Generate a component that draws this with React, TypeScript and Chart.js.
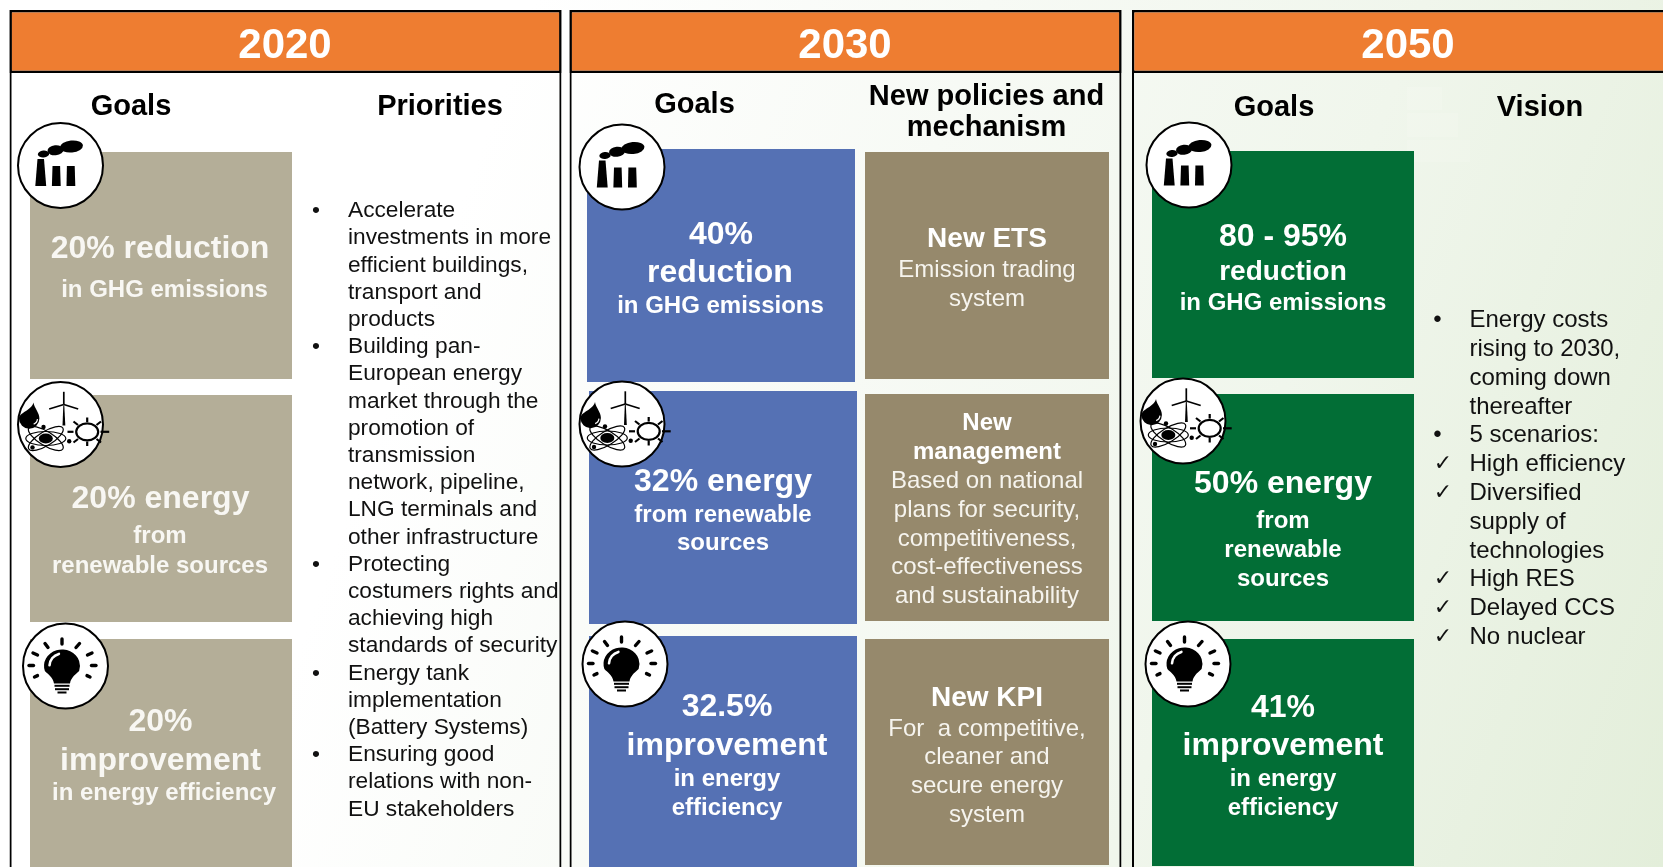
import React, { useEffect, useRef } from "react";
import { Chart, registerables } from "chart.js";

Chart.register(...registerables);

const WIDTH = 1663;
const HEIGHT = 867;
const FONT = '"Liberation Sans", Arial, sans-serif';

const ORANGE = "#ee7d31";
const TAN = "#b4ae98";
const BLUE = "#5571b4";
const KHAKI = "#96896c";
const GREEN = "#026e36";
const INK = "#111111";
const WHITE = "#ffffff";

// panels: left, right
const panelSpans = [
  [9.5, 561.5],
  [569.5, 1121.5],
  [1132, 1680],
];
const panelTop = 10;
const headerBottom = 73;

// filled boxes: left, right, top, bottom, colour
const boxes: [number, number, number, number, string][] = [
  [30, 292, 152, 379, TAN],
  [30, 292, 395, 622, TAN],
  [30, 292, 639, 867, TAN],
  [587, 855, 149, 382, BLUE],
  [589, 857, 391, 624, BLUE],
  [589, 857, 636, 867, BLUE],
  [865, 1109, 152, 379, KHAKI],
  [865, 1109, 394, 621, KHAKI],
  [865, 1109, 639, 865, KHAKI],
  [1152, 1414, 151, 378, GREEN],
  [1152, 1414, 394, 621, GREEN],
  [1152, 1414, 639, 866, GREEN],
];

// the faint energy-label shapes in the backdrop: left, right, top, bottom
const ghostBars: [number, number, number, number][] = [
  [1407, 1442, 87, 110],
  [1407, 1458, 113, 137],
  [1407, 1470, 140, 162],
];

// icon badges: centre x, centre y, icon name
const badges: [number, number, string][] = [
  [60.5, 165.5, "factory"],
  [60.5, 424.5, "energy"],
  [65.5, 666, "bulb"],
  [622, 167, "factory"],
  [622, 424, "energy"],
  [625, 664, "bulb"],
  [1189, 165, "factory"],
  [1183, 421, "energy"],
  [1188, 664, "bulb"],
];

const yearLabels = ["2020", "2030", "2050"];
const yearCentres = [285, 845, 1408];

// text runs: text, x, baseline, size, bold, colour
type Run = [string, number, number, number, boolean, string];

const columnHeads: Run[] = [
  ["Goals", 131, 115, 29, true, "#000"],
  ["Priorities", 440, 115, 29, true, "#000"],
  ["Goals", 694.5, 113, 29, true, "#000"],
  ["New policies and", 986.5, 105, 29, true, "#000"],
  ["mechanism", 986.5, 136, 29, true, "#000"],
  ["Goals", 1274, 116, 29, true, "#000"],
  ["Vision", 1540, 116, 29, true, "#000"],
];

const goals2020: Run[] = [
  ["20% reduction", 160, 258, 32, true, "#f8f7f3"],
  ["in GHG emissions", 164.5, 297, 24, true, "#f8f7f3"],
  ["20% energy", 160.5, 508, 32, true, "#f8f7f3"],
  ["from", 160, 543, 24, true, "#f8f7f3"],
  ["renewable sources", 160, 573, 24, true, "#f8f7f3"],
  ["20%", 160.5, 731, 32, true, "#f8f7f3"],
  ["improvement", 160.5, 770, 32, true, "#f8f7f3"],
  ["in energy efficiency", 164, 800, 24, true, "#f8f7f3"],
];

const goals2030: Run[] = [
  ["40%", 721, 244, 32, true, WHITE],
  ["reduction", 720, 282, 32, true, WHITE],
  ["in GHG emissions", 720.5, 313, 24, true, WHITE],
  ["32% energy", 723, 491, 32, true, WHITE],
  ["from renewable", 723, 522, 24, true, WHITE],
  ["sources", 723, 550, 24, true, WHITE],
  ["32.5%", 727, 716, 32, true, WHITE],
  ["improvement", 727, 755, 32, true, WHITE],
  ["in energy", 727, 786, 24, true, WHITE],
  ["efficiency", 727, 815, 24, true, WHITE],
];

const policies2030: Run[] = [
  ["New ETS", 987, 247, 28, true, WHITE],
  ["Emission trading", 987, 277, 24, false, "#f6f4ee"],
  ["system", 987, 306, 24, false, "#f6f4ee"],
  ["New", 987, 430, 24, true, WHITE],
  ["management", 987, 459, 24, true, WHITE],
  ["Based on national", 987, 488, 24, false, "#f6f4ee"],
  ["plans for security,", 987, 517, 24, false, "#f6f4ee"],
  ["competitiveness,", 987, 546, 24, false, "#f6f4ee"],
  ["cost-effectiveness", 987, 574, 24, false, "#f6f4ee"],
  ["and sustainability", 987, 603, 24, false, "#f6f4ee"],
  ["New KPI", 987, 706, 28, true, WHITE],
  ["For  a competitive,", 987, 736, 24, false, "#f6f4ee"],
  ["cleaner and", 987, 764, 24, false, "#f6f4ee"],
  ["secure energy", 987, 793, 24, false, "#f6f4ee"],
  ["system", 987, 822, 24, false, "#f6f4ee"],
];

const goals2050: Run[] = [
  ["80 - 95%", 1283, 246, 32, true, WHITE],
  ["reduction", 1283, 280, 28, true, WHITE],
  ["in GHG emissions", 1283, 310, 24, true, WHITE],
  ["50% energy", 1283, 493, 32, true, WHITE],
  ["from", 1283, 528, 24, true, WHITE],
  ["renewable", 1283, 557, 24, true, WHITE],
  ["sources", 1283, 586, 24, true, WHITE],
  ["41%", 1283, 717, 32, true, WHITE],
  ["improvement", 1283, 755, 32, true, WHITE],
  ["in energy", 1283, 786, 24, true, WHITE],
  ["efficiency", 1283, 815, 24, true, WHITE],
];

const priorityLines = [
  "Accelerate",
  "investments in more",
  "efficient buildings,",
  "transport and",
  "products",
  "Building pan-",
  "European energy",
  "market through the",
  "promotion of",
  "transmission",
  "network, pipeline,",
  "LNG terminals and",
  "other infrastructure",
  "Protecting",
  "costumers rights and",
  "achieving high",
  "standards of security",
  "Energy tank",
  "implementation",
  "(Battery Systems)",
  "Ensuring good",
  "relations with non-",
  "EU stakeholders",
];
const priorityBullets = [0, 5, 13, 17, 20];

const visionLines = [
  "Energy costs",
  "rising to 2030,",
  "coming down",
  "thereafter",
  "5 scenarios:",
  "High efficiency",
  "Diversified",
  "supply of",
  "technologies",
  "High RES",
  "Delayed CCS",
  "No nuclear",
];
const visionBullets = [0, 4];
const visionChecks = [5, 6, 9, 10, 11];

function drawFactory(c: CanvasRenderingContext2D) {
  c.fillStyle = "#000";
  const polys = [
    [[-25.2, 20.5], [-23, -6.5], [-16.5, -6.5], [-14.3, 20.5]],
    [[-8.6, 20.5], [-8, 0.5], [-0.4, 0.5], [0.2, 20.5]],
    [[6, 20.5], [6.4, 0.5], [14.2, 0.5], [14.8, 20.5]],
  ];
  polys.forEach((p) => {
    c.beginPath();
    p.forEach(([x, y], i) => (i ? c.lineTo(x, y) : c.moveTo(x, y)));
    c.closePath();
    c.fill();
  });
  const puffs = [
    [11, -19, 11.5, 6],
    [-5, -15.2, 8, 5],
    [-17, -11.5, 5.7, 3.5],
  ];
  puffs.forEach(([x, y, rx, ry]) => {
    c.beginPath();
    c.ellipse(x, y, rx, ry, -0.1, 0, Math.PI * 2);
    c.fill();
  });
}

function drawEnergy(c: CanvasRenderingContext2D) {
  c.fillStyle = "#000";
  c.strokeStyle = "#000";
  // drop
  c.beginPath();
  c.moveTo(-27, -22);
  c.bezierCurveTo(-29, -14, -41.5, -12, -41.5, -6);
  c.arc(-31.3, -6, 10.2, Math.PI, 0, true);
  c.bezierCurveTo(-21.1, -12, -26, -16, -27, -22);
  c.fill();
  c.strokeStyle = "#fff";
  c.lineWidth = 1.2;
  c.beginPath();
  c.arc(-29, -6, 6, 0.1, 1.2);
  c.stroke();
  c.strokeStyle = "#000";
  // turbine
  c.beginPath();
  c.moveTo(2, 1);
  c.lineTo(2.8, -19);
  c.lineTo(3.8, -19);
  c.lineTo(4.8, 1);
  c.closePath();
  c.fill();
  const blades = [
    [3.3, -32.7],
    [-11.3, -15.5],
    [17.7, -15.5],
  ];
  blades.forEach(([x, y]) => {
    c.beginPath();
    c.moveTo(3.3, -20);
    c.lineTo(x, y);
    c.lineWidth = 1.7;
    c.stroke();
  });
  // atom
  c.lineWidth = 1.2;
  [0, 0.55, -0.55].forEach((rot) => {
    c.beginPath();
    c.ellipse(-14.7, 14, 20, 7, rot, 0, Math.PI * 2);
    c.stroke();
  });
  c.beginPath();
  c.ellipse(-14.7, 14, 7, 5, 0, 0, Math.PI * 2);
  c.fill();
  [[-17, 2.5], [-28, 23], [8.7, 16.7]].forEach(([x, y]) => {
    c.beginPath();
    c.arc(x, y, 2.2, 0, Math.PI * 2);
    c.fill();
  });
  // sun
  c.lineWidth = 2.2;
  c.beginPath();
  c.ellipse(26.7, 7.3, 11, 8.5, 0, 0, Math.PI * 2);
  c.stroke();
  const rays = [
    [26.7, -7, 26.7, -2.5],
    [26.7, 17, 26.7, 21.5],
    [7, 7.3, 13, 7.3],
    [40, 7.3, 48.7, 7.3],
    [13, -3, 17.5, 0.5],
    [40.5, -3, 36, 0.5],
    [13, 18, 17.5, 14.5],
    [40.5, 18, 36, 14.5],
  ];
  rays.forEach(([a, b, d, e]) => {
    c.beginPath();
    c.moveTo(a, b);
    c.lineTo(d, e);
    c.stroke();
  });
}

function drawBulb(c: CanvasRenderingContext2D) {
  c.fillStyle = "#000";
  c.strokeStyle = "#000";
  c.lineCap = "round";
  c.lineWidth = 3.4;
  const rays = [
    [-3.5, -27, -3.5, -22],
    [-20.5, -22.5, -17.5, -18.5],
    [14, -22.5, 10.5, -18.5],
    [-32.5, -13, -28, -11],
    [26.5, -13, 22, -11],
    [-36.5, -0.5, -32, -0.5],
    [30.5, -0.5, 26, -0.5],
    [-31, 11, -28, 9.6],
    [24.5, 11, 21.5, 9.6],
  ];
  rays.forEach(([a, b, d, e]) => {
    c.beginPath();
    c.moveTo(a, b);
    c.lineTo(d, e);
    c.stroke();
  });
  c.beginPath();
  c.ellipse(-3.5, 0, 18, 16.5, 0, Math.PI * 0.9, Math.PI * 0.1);
  c.bezierCurveTo(11, 8, 5.5, 11, 4.5, 17.5);
  c.lineTo(-11.5, 17.5);
  c.bezierCurveTo(-12.5, 11, -18, 8, -20.6, 5);
  c.closePath();
  c.fill();
  c.lineCap = "butt";
  c.lineWidth = 2;
  [[19.8, 15], [23.2, 14], [26.5, 9]].forEach(([y, w]) => {
    c.beginPath();
    c.moveTo(-3.5 - w / 2, y);
    c.lineTo(-3.5 + w / 2, y);
    c.stroke();
  });
  c.strokeStyle = "#fff";
  c.lineWidth = 2.6;
  c.lineCap = "round";
  c.beginPath();
  c.arc(-3.5, 0, 12.5, Math.PI * 1.02, Math.PI * 1.42);
  c.stroke();
}

const iconPainters: Record<string, (c: CanvasRenderingContext2D) => void> = {
  factory: drawFactory,
  energy: drawEnergy,
  bulb: drawBulb,
};

const bar = (left: number, right: number, top: number, bottom: number, extra: object) => ({
  type: "bar" as const,
  data: [{ x: (left + right) / 2, y: [top, bottom] }],
  barThickness: right - left,
  grouped: false,
  inflateAmount: 0,
  borderSkipped: false,
  ...extra,
});

export default function App() {
  const ref = useRef<HTMLCanvasElement | null>(null);

  useEffect(() => {
    document.body.style.margin = "0";
    document.body.style.overflow = "hidden";
    document.body.style.background =
      "linear-gradient(110deg, #ffffff 27%, #f7faf5 50%, #f0f6ec 72%, #e3eeda 100%)";
    document.body.style.minHeight = "100vh";
    if (!ref.current) return;

    const textPlugin = {
      id: "infographicText",
      afterDatasetsDraw(chart: any) {
        const c: CanvasRenderingContext2D = chart.ctx;
        const xs = chart.scales.x;
        const ys = chart.scales.y;
        c.save();

        const meta = chart.getDatasetMeta(chart.data.datasets.length - 1);
        badges.forEach((b, i) => {
          const pt = meta.data[i];
          c.save();
          c.translate(pt.x, pt.y);
          iconPainters[b[2]](c);
          c.restore();
        });

        c.textBaseline = "alphabetic";
        const put = (t: string, x: number, y: number, size: number, bold: boolean, color: string, align: CanvasTextAlign = "center", family = FONT) => {
          c.font = `${bold ? "bold " : ""}${size}px ${family}`;
          c.fillStyle = color;
          c.textAlign = align;
          c.fillText(t, xs.getPixelForValue(x), ys.getPixelForValue(y));
        };

        yearLabels.forEach((t, i) => put(t, yearCentres[i], 57.5, 42, true, WHITE));
        [columnHeads, goals2020, goals2030, policies2030, goals2050].forEach((runs) =>
          runs.forEach((r) => put(r[0], r[1], r[2], r[3], r[4], r[5]))
        );

        priorityLines.forEach((t, i) => put(t, 348, 217.2 + i * 27.2, 22.7, false, INK, "left"));
        priorityBullets.forEach((i) => put("\u2022", 316, 217.2 + i * 27.2, 22.7, false, INK));

        const visionY = [327, 356, 385, 414, 442, 471, 499.5, 528.5, 557.5, 586, 614.5, 643.5];
        visionLines.forEach((t, i) => put(t, 1469.5, visionY[i], 24, false, INK, "left"));
        visionBullets.forEach((i) => put("\u2022", 1437.5, visionY[i], 24, false, INK));
        visionChecks.forEach((i) =>
          put("\u2713", 1443, visionY[i] - 1, 22, false, INK, "center", '"DejaVu Sans", sans-serif')
        );
        c.restore();
      },
    };

    const datasets: any[] = [
      ...ghostBars.map(([l, r, t, b]) =>
        bar(l, r, t, b, { backgroundColor: "rgba(255,255,255,0.13)", borderWidth: 0, order: 6 })
      ),
      ...panelSpans.map(([l, r]) =>
        bar(l, r, panelTop, HEIGHT + 20, {
          backgroundColor: "rgba(0,0,0,0)",
          borderColor: "#000",
          borderWidth: 2,
          order: 5,
        })
      ),
      ...panelSpans.map(([l, r]) =>
        bar(l, r, panelTop, headerBottom, {
          backgroundColor: ORANGE,
          borderColor: "#000",
          borderWidth: 2.4,
          order: 4,
        })
      ),
      ...boxes.map(([l, r, t, b, color]) =>
        bar(l, r, t, b, { backgroundColor: color, borderWidth: 0, order: 3 })
      ),
      {
        type: "scatter" as const,
        data: badges.map(([x, y]) => ({ x, y })),
        pointRadius: 42.5,
        pointHoverRadius: 42.5,
        pointBackgroundColor: WHITE,
        pointBorderColor: "#000",
        pointBorderWidth: 2,
        order: 1,
      },
    ];

    const chart = new Chart(ref.current, {
      type: "bar",
      data: { datasets },
      plugins: [textPlugin],
      options: {
        animation: false,
        responsive: false,
        layout: { padding: 0, autoPadding: false },
        events: [],
        scales: {
          x: { type: "linear", min: 0, max: WIDTH, offset: false, display: false },
          y: { type: "linear", min: 0, max: HEIGHT, reverse: true, display: false, beginAtZero: false },
        },
        plugins: { legend: { display: false }, tooltip: { enabled: false }, title: { display: false } },
      },
    } as any);
    return () => chart.destroy();
  }, []);

  return (
    <canvas
      ref={ref}
      width={WIDTH}
      height={HEIGHT}
      style={{ display: "block", position: "absolute", left: 0, top: 0, width: WIDTH, height: HEIGHT }}
    />
  );
}
